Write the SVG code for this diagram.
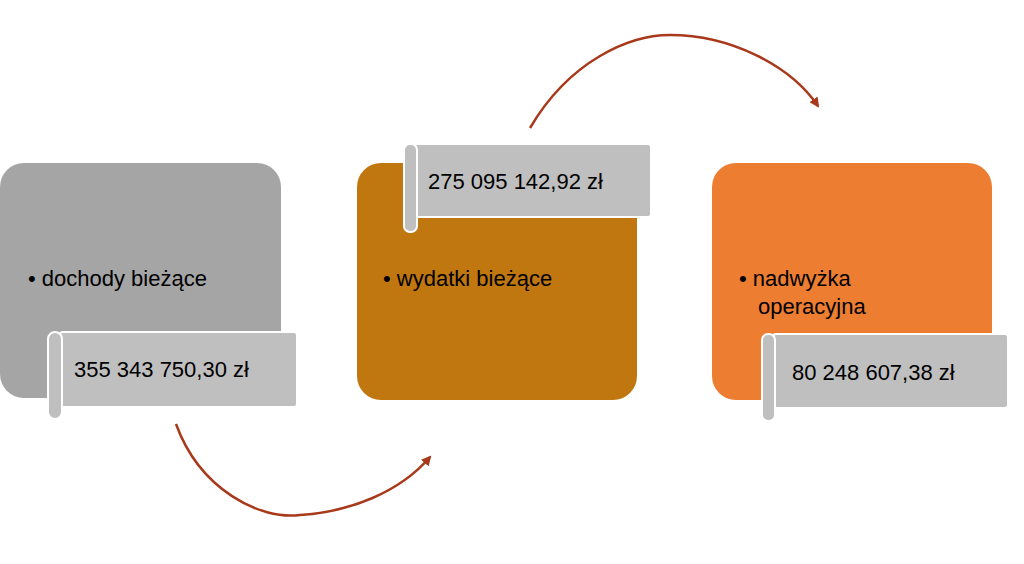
<svg xmlns="http://www.w3.org/2000/svg" width="1024" height="564" viewBox="0 0 1024 564">
<style>
text{font-family:"Liberation Sans",Arial,sans-serif;fill:#000}
.lbl{font-size:22px}
.val{font-size:22px}
.scroll{fill:#bfbfbf;stroke:#fff;stroke-width:2}
.arc{fill:none;stroke:#a8391a;stroke-width:2.5}
</style>
<defs>
<marker id="ah" viewBox="0 0 10 10" refX="8" refY="5" markerWidth="4" markerHeight="4" orient="auto"><path d="M0,0L10,5L0,10z" fill="#a8391a"/></marker>
</defs>
<rect width="1024" height="564" fill="#fff"/>
<g id="connectors">
<path class="arc" d="M176,424 C200,490 260,520 300,515 C350,512 400,492 430,457" marker-end="url(#ah)"/>
<path class="arc" d="M530,128 C570,60 630,35 670,35 C730,35 790,65 818,106" marker-end="url(#ah)"/>
</g>
<g id="node1">
<rect x="0" y="163" width="281" height="235" rx="24" fill="#a5a5a5"/>
<text class="lbl" x="28" y="286">• dochody bieżące</text>
</g>
<g id="scroll1">
<rect class="scroll" x="60" y="332" width="237" height="75" rx="3"/>
<rect class="scroll" x="48" y="332" width="14" height="87" rx="7"/>
<text class="val" x="74" y="377">355 343 750,30 zł</text>
</g>
<g id="node2">
<rect x="357" y="163" width="280" height="237" rx="24" fill="#c0770f"/>
<text class="lbl" x="383" y="286">• wydatki bieżące</text>
</g>
<g id="scroll2">
<rect class="scroll" x="414" y="144" width="237" height="73" rx="3"/>
<rect class="scroll" x="404" y="144" width="13" height="88" rx="6"/>
<text class="val" x="428" y="189">275 095 142,92 zł</text>
</g>
<g id="node3">
<rect x="712" y="163" width="280" height="237" rx="24" fill="#ed7d31"/>
<text class="lbl" x="739" y="286">• nadwyżka</text>
<text class="lbl" x="758" y="314">operacyjna</text>
</g>
<g id="scroll3">
<rect class="scroll" x="773" y="334" width="235" height="74" rx="3"/>
<rect class="scroll" x="762" y="334" width="13" height="87" rx="6"/>
<text class="val" x="792" y="380">80 248 607,38 zł</text>
</g>
</svg>
